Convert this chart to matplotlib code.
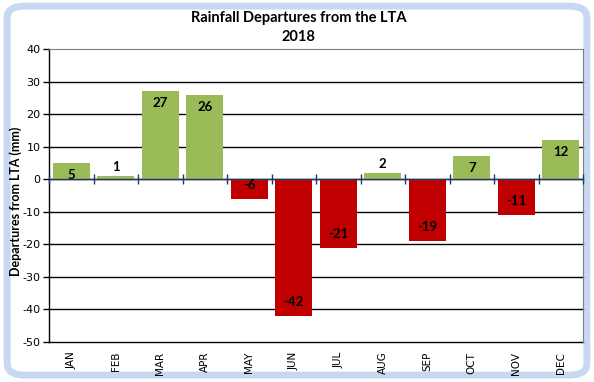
import matplotlib.pyplot as plt
import numpy as np
from matplotlib.patches import FancyBboxPatch

plt.rcParams['axes.unicode_minus'] = False

months = ['JAN', 'FEB', 'MAR', 'APR', 'MAY', 'JUN', 'JUL', 'AUG', 'SEP', 'OCT', 'NOV', 'DEC']
departures = [5, 1, 27, 26, -6, -42, -21, 2, -19, 7, -11, 12]
yticks = list(range(-50, 41, 10))

green = '#9BBB59'
red = '#C00000'
label_font = 'Lato'

fig = plt.figure(figsize=(5.94, 3.82), dpi=100)

# chart frame with rounded corners and light blue edge
frame = FancyBboxPatch((0.012, 0.018), 0.976, 0.966, boxstyle='round,pad=0,rounding_size=0.03',
                       transform=fig.transFigure, facecolor='white', edgecolor='#C6D9F1',
                       linewidth=5, zorder=-10)
fig.patches.append(frame)

ax = fig.add_axes([0.0825, 0.1047, 0.899, 0.767])
ax.set_facecolor('none')

x = np.arange(len(months))
colors = [green if v >= 0 else red for v in departures]
ax.bar(x, departures, width=0.83, color=colors, zorder=3)

ax.set_xlim(-0.5, len(months) - 0.5)
ax.set_ylim(-50, 40)
ax.set_yticks(yticks)
ax.tick_params(axis='y', length=4, width=1, labelsize=8, direction='out', pad=2, color='black')

for yv in yticks[:-1]:
    ax.axhline(yv, color='black', linewidth=1, zorder=1, clip_on=False)

ax.spines['left'].set_color('black')
ax.spines['left'].set_linewidth(1)
ax.spines['top'].set_color('#808080')
ax.spines['right'].set_color('#808080')
ax.spines['bottom'].set_visible(False)

# zero axis with category tick marks
ax.axhline(0, color='#1F3864', linewidth=1, zorder=4)
ax.plot(np.arange(len(months) + 1) - 0.5, np.zeros(len(months) + 1), linestyle='none',
        marker='|', markersize=7, color='#1F3864', zorder=4, clip_on=False)

ax.set_xticks(x)
ax.set_xticklabels(months, rotation=90, fontsize=7.5)
ax.tick_params(axis='x', length=0, pad=7)

for xi, v in zip(x, departures):
    if abs(v) < 3:
        ax.text(xi, v + 0.8, str(v), ha='center', va='bottom', fontsize=9.5,
                fontweight='bold', family=label_font, zorder=5)
    elif v > 0:
        ax.text(xi, v - 3.7, str(v), ha='center', va='center', fontsize=9.5,
                fontweight='bold', family=label_font, zorder=5)
    else:
        ax.text(xi, v + 4.3, str(v), ha='center', va='center', fontsize=9.5,
                fontweight='bold', family=label_font, zorder=5)

ax.set_ylabel('Departures from LTA (mm)', fontsize=9, fontweight='bold', family=label_font)
ax.yaxis.set_label_coords(-0.05, 0.48)

fig.text(0.503, 0.953, 'Rainfall Departures from the LTA', ha='center', va='center',
         fontsize=10.5, fontweight='bold', family=label_font)
fig.text(0.503, 0.903, '2018', ha='center', va='center', fontsize=10.5,
         fontweight='bold', family=label_font)

fig.savefig('out.png', dpi=100)
